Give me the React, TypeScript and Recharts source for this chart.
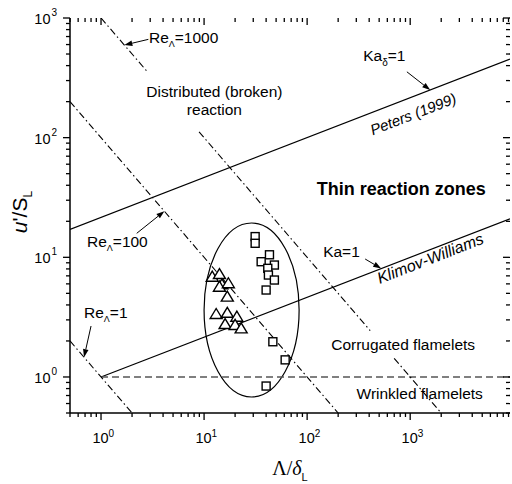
import { ScatterChart, Scatter, XAxis, YAxis, ReferenceLine, ReferenceArea, ReferenceDot } from 'recharts';

const SANS = '"Liberation Sans", Arial, Helvetica, sans-serif';
const SERIF = '"Liberation Serif", "Times New Roman", serif';

// measured flames: triangles and squares
const triangleX = [12.0, 14.1, 14.9, 14.1, 17.2, 16.8, 13.1, 16.8, 20.8, 16.0, 20.0, 22.9];
const triangleY = [6.89, 7.25, 5.95, 5.68, 6.07, 4.69, 3.36, 3.44, 3.19, 2.77, 2.72, 2.55];
const squareX = [31.3, 31.3, 43.1, 35.8, 48.1, 41.5, 42.1, 48.1, 40.0, 46.5, 61.2, 40.0];
const squareY = [14.9, 13.1, 10.5, 9.19, 8.62, 8.09, 7.11, 6.46, 5.33, 1.97, 1.39, 0.84];

// regime boundaries (end points, straight in log-log)
const petersLine = [{ x: 0.5, y: 17.1 }, { x: 9300, y: 453 }];
const klimovLine = [{ x: 1, y: 1 }, { x: 9300, y: 21.0 }];
const wrinkledLine = [{ x: 1, y: 1 }, { x: 9300, y: 1 }];
const re1Line = [{ x: 0.5, y: 2 }, { x: 2, y: 0.5 }];
const re100Line = [{ x: 0.5, y: 200 }, { x: 200, y: 0.5 }];
const re1000Upper = [{ x: 1, y: 1000 }, { x: 2.78, y: 360 }];
const re1000Middle = [{ x: 8.94, y: 112 }, { x: 409, y: 2.44 }];
const re1000Lower = [{ x: 699, y: 1.43 }, { x: 2000, y: 0.5 }];

// ellipse around the data, bounding box
const ellipseX = [10.0, 83.6];
const ellipseY = [0.68, 19.35];

const xTicks = [0.5, 0.6, 0.7, 0.8, 0.9, 1, 2, 3, 4, 5, 6, 7, 8, 9, 10, 20, 30, 40, 50, 60, 70, 80, 90,
  100, 200, 300, 400, 500, 600, 700, 800, 900, 1000, 2000, 3000, 4000, 5000, 6000, 7000, 8000, 9000];
const yTicks = [0.5, 0.6, 0.7, 0.8, 0.9, 1, 2, 3, 4, 5, 6, 7, 8, 9, 10, 20, 30, 40, 50, 60, 70, 80, 90,
  100, 200, 300, 400, 500, 600, 700, 800, 900, 1000];
const decades = [1, 10, 100, 1000];
const decadeExp = ['0', '1', '2', '3'];

// plot box size, used to mirror ticks on top/right frame
const PLOT_W = 440;
const PLOT_H = 395;

const toPoints = (xs: number[], ys: number[]) => xs.map((x, i) => ({ x, y: ys[i] }));

const Empty = () => <g />;

const Triangle = ({ cx, cy }: any) => (
  <polygon
    points={`${cx},${cy - 5.5} ${cx - 6},${cy + 4.5} ${cx + 6},${cy + 4.5}`}
    fill="#fff"
    stroke="#000"
    strokeWidth={1.4}
  />
);

const Square = ({ cx, cy }: any) => (
  <rect x={cx - 4} y={cy - 4} width={8} height={8} fill="#fff" stroke="#000" strokeWidth={1.4} />
);

const Arrow = (p: any) => {
  const { x1, y1, x2, y2 } = p;
  const a = Math.atan2(y2 - y1, x2 - x1);
  const L = 8;
  const W = 2.8;
  const bx = x2 - L * Math.cos(a);
  const by = y2 - L * Math.sin(a);
  const pts = `${x2},${y2} ${bx + W * Math.sin(a)},${by - W * Math.cos(a)} ${bx - W * Math.sin(a)},${by + W * Math.cos(a)}`;
  return (
    <g>
      <line x1={x1} y1={y1} x2={bx} y2={by} stroke="#000" strokeWidth={1} />
      <polygon points={pts} fill="#000" />
    </g>
  );
};

const EllipseShape = (p: any) => (
  <ellipse
    cx={p.x + p.width / 2}
    cy={p.y + p.height / 2}
    rx={Math.abs(p.width) / 2}
    ry={Math.abs(p.height) / 2}
    fill="none"
    stroke="#000"
    strokeWidth={1.2}
  />
);

// bottom ticks (outward) plus mirrored top ticks (inward)
const BottomTick = ({ x, y, payload }: any) => {
  const i = decades.indexOf(payload.value);
  const len = i >= 0 ? 7 : 4;
  return (
    <g>
      <line x1={x} x2={x} y1={y} y2={y + len} stroke="#000" strokeWidth={1.3} />
      <line x1={x} x2={x} y1={y - PLOT_H} y2={y - PLOT_H + len} stroke="#000" strokeWidth={1.3} />
      {i >= 0 && (
        <text x={x - 0.5} y={y + 30} textAnchor="middle" fontSize={14.5} fontFamily={SANS} fill="#000">10</text>
      )}
      {i >= 0 && (
        <text x={x + 7.5} y={y + 23.5} fontSize={10} fontFamily={SANS} fill="#000">{decadeExp[i]}</text>
      )}
    </g>
  );
};

// left ticks (outward) plus mirrored right ticks (inward)
const LeftTick = ({ x, y, payload }: any) => {
  const i = decades.indexOf(payload.value);
  const len = i >= 0 ? 7 : 4;
  return (
    <g>
      <line x1={x} x2={x - len} y1={y} y2={y} stroke="#000" strokeWidth={1.3} />
      <line x1={x + PLOT_W} x2={x + PLOT_W - len} y1={y} y2={y} stroke="#000" strokeWidth={1.3} />
      {i >= 0 && (
        <text x={x - 19.5} y={y + 6} textAnchor="end" fontSize={14.5} fontFamily={SANS} fill="#000">10</text>
      )}
      {i >= 0 && (
        <text x={x - 18.5} y={y - 2} fontSize={10} fontFamily={SANS} fill="#000">{decadeExp[i]}</text>
      )}
    </g>
  );
};

const XTitle = ({ viewBox }: any) => (
  <text x={viewBox.x + viewBox.width / 2} y={viewBox.y + 62} textAnchor="middle" fontFamily={SERIF} fontSize={20} fill="#000">
    <tspan>Λ/</tspan>
    <tspan fontStyle="italic">δ</tspan>
    <tspan fontFamily={SANS} fontSize={11} dy={6}>L</tspan>
  </text>
);

const YTitle = ({ viewBox }: any) => {
  const x = viewBox.x + 17;
  const y = viewBox.y + 194;
  return (
    <text x={x} y={y} textAnchor="middle" transform={`rotate(-90 ${x} ${y})`} fontFamily={SANS} fontSize={21} fill="#000">
      <tspan fontStyle="italic">u</tspan>
      <tspan>'/S</tspan>
      <tspan fontSize={12} dy={5}>L</tspan>
    </text>
  );
};

const lineStyle = { stroke: '#000', strokeWidth: 1.2 };
const dashDot = { stroke: '#000', strokeWidth: 1.1, strokeDasharray: '7 3 1.5 3' };

const note = (key: string, x: number, y: number, body: (cx: number, cy: number) => any) => (
  <ReferenceDot key={key} x={x} y={y} r={0} ifOverflow="visible" shape={(p: any) => body(p.cx, p.cy)} />
);

const arrow = (key: string, from: { x: number; y: number }, to: { x: number; y: number }) => (
  <ReferenceLine key={key} segment={[from, to]} ifOverflow="visible" shape={Arrow} />
);

const lbl = { fontFamily: SANS, fontSize: 15.5, fill: '#000' };

export default function App() {
  return (
    <div style={{ position: 'absolute', left: 0, top: 0 }}>
      <ScatterChart width={512} height={484} margin={{ top: 18, right: 2, bottom: 31, left: 10 }}>
        <XAxis
          type="number"
          dataKey="x"
          scale="log"
          domain={[0.5, 9300]}
          allowDataOverflow
          ticks={xTicks}
          interval={0}
          height={40}
          tickSize={0}
          tickMargin={0}
          tick={(p: any) => <BottomTick {...p} />}
          axisLine={{ stroke: '#000', strokeWidth: 1.5 }}
          label={(p: any) => <XTitle {...p} />}
        />
        <XAxis
          xAxisId="top"
          orientation="top"
          type="number"
          dataKey="x"
          scale="log"
          domain={[0.5, 9300]}
          allowDataOverflow
          height={0}
          tick={false}
          tickLine={false}
          axisLine={{ stroke: '#000', strokeWidth: 1.5 }}
        />
        <YAxis
          type="number"
          dataKey="y"
          scale="log"
          domain={[0.5, 1000]}
          allowDataOverflow
          ticks={yTicks}
          interval={0}
          width={60}
          tickSize={0}
          tickMargin={0}
          tick={(p: any) => <LeftTick {...p} />}
          axisLine={{ stroke: '#000', strokeWidth: 1.5 }}
          label={(p: any) => <YTitle {...p} />}
        />
        <YAxis
          yAxisId="right"
          orientation="right"
          type="number"
          dataKey="y"
          scale="log"
          domain={[0.5, 1000]}
          allowDataOverflow
          width={0}
          tick={false}
          tickLine={false}
          axisLine={{ stroke: '#000', strokeWidth: 1.5 }}
        />

        <Scatter data={petersLine} line={lineStyle} shape={Empty} isAnimationActive={false} />
        <Scatter data={klimovLine} line={lineStyle} shape={Empty} isAnimationActive={false} />
        <Scatter data={wrinkledLine} line={{ stroke: '#555', strokeWidth: 1.5, strokeDasharray: '7 4' }} shape={Empty} isAnimationActive={false} />
        <Scatter data={re1Line} line={dashDot} shape={Empty} isAnimationActive={false} />
        <Scatter data={re100Line} line={dashDot} shape={Empty} isAnimationActive={false} />
        <Scatter data={re1000Upper} line={dashDot} shape={Empty} isAnimationActive={false} />
        <Scatter data={re1000Middle} line={dashDot} shape={Empty} isAnimationActive={false} />
        <Scatter data={re1000Lower} line={dashDot} shape={Empty} isAnimationActive={false} />

        <ReferenceArea x1={ellipseX[0]} x2={ellipseX[1]} y1={ellipseY[0]} y2={ellipseY[1]} shape={EllipseShape} ifOverflow="visible" />

        <Scatter data={toPoints(triangleX, triangleY)} shape={Triangle} isAnimationActive={false} />
        <Scatter data={toPoints(squareX, squareY)} shape={Square} isAnimationActive={false} />

        {arrow('a1000', { x: 2.88, y: 663 }, { x: 1.684, y: 594 })}
        {arrow('aKd', { x: 929, y: 355 }, { x: 1564, y: 250 })}
        {arrow('a100', { x: 2.22, y: 15.87 }, { x: 4.12, y: 24.3 })}
        {arrow('aKa', { x: 365.7, y: 9.68 }, { x: 523, y: 8.06 })}
        {arrow('a1', { x: 0.8, y: 2.667 }, { x: 0.684, y: 1.462 })}

        {note('re1000', 2.92, 617, (x, y) => (
          <text x={x} y={y} {...lbl}>
            Re<tspan fontSize={9} dy={4}>Λ</tspan><tspan dy={-4}>=1000</tspan>
          </text>
        ))}
        {note('dist', 12.6, 220, (x, y) => (
          <text x={x} y={y} textAnchor="middle" {...lbl}>Distributed (broken)</text>
        ))}
        {note('dist2', 12.6, 154.5, (x, y) => (
          <text x={x} y={y} textAnchor="middle" {...lbl}>reaction</text>
        ))}
        {note('kad', 350, 436, (x, y) => (
          <text x={x} y={y} {...lbl}>
            Ka<tspan fontSize={10} dy={5}>δ</tspan><tspan dy={-5}>=1</tspan>
          </text>
        ))}
        {note('peters', 1069, 157.4, (x, y) => (
          <text x={x} y={y} dy="0.35em" textAnchor="middle" transform={`rotate(-21.2 ${x} ${y})`} {...lbl} fontSize={15} fontStyle="italic">
            Peters (1999)
          </text>
        ))}
        {note('thin', 818, 33.2, (x, y) => (
          <text x={x} y={y} textAnchor="middle" fontFamily={SANS} fontSize={18} fontWeight="bold" fill="#000">Thin reaction zones</text>
        ))}
        {note('re100', 0.731, 12.19, (x, y) => (
          <text x={x} y={y} {...lbl}>
            Re<tspan fontSize={9} dy={4}>Λ</tspan><tspan dy={-4}>=100</tspan>
          </text>
        ))}
        {note('ka1', 143, 10.12, (x, y) => (
          <text x={x} y={y} {...lbl}>Ka=1</text>
        ))}
        {note('klimov', 1564, 9.81, (x, y) => (
          <text x={x} y={y} dy="0.35em" textAnchor="middle" transform={`rotate(-21.2 ${x} ${y})`} {...lbl} fontSize={16} fontStyle="italic">
            Klimov-Williams
          </text>
        ))}
        {note('re1', 0.684, 3.11, (x, y) => (
          <text x={x} y={y} {...lbl}>
            Re<tspan fontSize={9} dy={4}>Λ</tspan><tspan dy={-4}>=1</tspan>
          </text>
        ))}
        {note('corr', 855, 1.68, (x, y) => (
          <text x={x} y={y} textAnchor="middle" {...lbl}>Corrugated flamelets</text>
        ))}
        {note('wrink', 1237, 0.655, (x, y) => (
          <text x={x} y={y} textAnchor="middle" {...lbl}>Wrinkled flamelets</text>
        ))}
      </ScatterChart>
    </div>
  );
}
